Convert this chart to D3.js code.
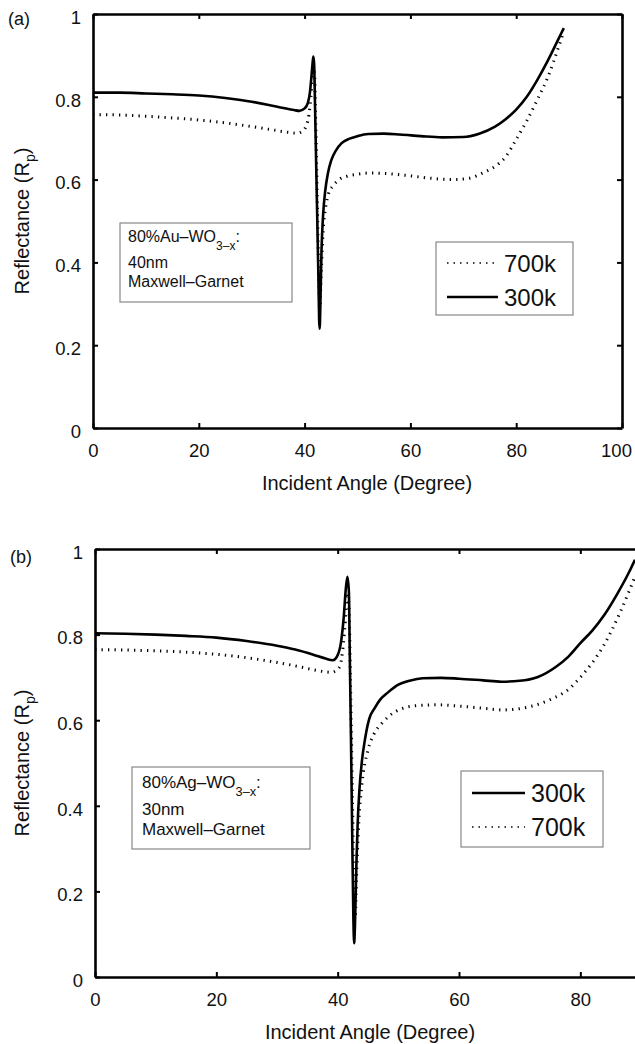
<!DOCTYPE html>
<html>
<head>
<meta charset="utf-8">
<script src="https://cdn.jsdelivr.net/npm/d3@7.9.0/dist/d3.min.js"></script>
<style>
  body { margin: 0; background: #fff; }
  svg { display: block; font-family: 'Liberation Sans', Arial, Helvetica, sans-serif; }
  .axis path, .axis line { stroke: #000; }
  .axis text { fill: #111; font-size: 18.5px; }
</style>
</head>
<body>
<svg id="chart" width="635" height="1044"></svg>
<script>
// panel (a): 80% Au-WO3-x, 40 nm
const anglesA300 = [0, 5, 10, 15, 20, 25, 30, 33, 36, 38, 39, 40, 40.6, 41, 41.3, 41.5, 41.65, 41.8, 42.0, 42.2, 42.4, 42.6, 42.75, 42.85, 43.0, 43.2, 43.5, 43.9, 44.4, 45, 46, 47, 48.5, 50, 52, 55, 58, 62, 66, 70, 73, 76, 78, 80, 82, 84, 86, 88, 89];
const reflA300 = [0.81, 0.81, 0.808, 0.806, 0.803, 0.797, 0.788, 0.781, 0.773, 0.768, 0.766, 0.772, 0.785, 0.81, 0.85, 0.88, 0.897, 0.88, 0.76, 0.63, 0.5, 0.37, 0.26, 0.24, 0.31, 0.43, 0.515, 0.573, 0.615, 0.645, 0.672, 0.688, 0.699, 0.705, 0.71, 0.711, 0.709, 0.705, 0.702, 0.703, 0.711, 0.728, 0.746, 0.769, 0.8, 0.841, 0.888, 0.94, 0.966];
const anglesA700 = [0, 5, 10, 15, 20, 25, 30, 34, 37, 38.6, 39.5, 40.3, 40.8, 41.2, 41.6, 41.85, 42.1, 42.4, 42.7, 42.9, 43.1, 43.5, 44, 44.5, 45.4, 46.5, 48, 50, 52.5, 56, 60, 64, 68, 71, 74, 76, 78, 80, 82, 84, 86, 88, 89];
const reflA700 = [0.757, 0.756, 0.753, 0.749, 0.744, 0.737, 0.728, 0.72, 0.714, 0.712, 0.716, 0.73, 0.755, 0.8, 0.86, 0.86, 0.74, 0.55, 0.36, 0.29, 0.36, 0.475, 0.535, 0.565, 0.585, 0.6, 0.608, 0.613, 0.616, 0.614, 0.609, 0.603, 0.6, 0.603, 0.618, 0.632, 0.655, 0.697, 0.742, 0.793, 0.848, 0.92, 0.958];

// panel (b): 80% Ag-WO3-x, 30 nm
const anglesB300 = [0, 5, 10, 15, 20, 25, 30, 33, 36, 38, 39.2, 40, 40.6, 41, 41.3, 41.6, 41.85, 42.0, 42.2, 42.4, 42.6, 42.72, 42.85, 43.1, 43.3, 43.6, 44.0, 44.5, 45.2, 46.1, 47, 48.3, 50, 52, 54, 57, 60, 64, 67, 70, 73, 76, 78, 80, 82, 84, 86, 88, 89];
const reflB300 = [0.803, 0.802, 0.8, 0.797, 0.793, 0.785, 0.774, 0.765, 0.753, 0.744, 0.74, 0.752, 0.787, 0.84, 0.9, 0.935, 0.9, 0.75, 0.55, 0.33, 0.13, 0.079, 0.12, 0.27, 0.36, 0.44, 0.505, 0.555, 0.603, 0.628, 0.648, 0.665, 0.683, 0.693, 0.698, 0.699, 0.697, 0.693, 0.69, 0.692, 0.701, 0.725, 0.748, 0.78, 0.81, 0.847, 0.893, 0.945, 0.975];
const anglesB700 = [0, 5, 10, 15, 20, 25, 30, 33, 36, 38, 39, 39.8, 40.4, 40.8, 41.2, 41.6, 41.85, 42.1, 42.4, 42.7, 42.9, 43.1, 43.4, 44, 45, 46, 47.3, 48.5, 50.6, 53, 56.3, 60, 64, 67.2, 70, 72.8, 75, 78.3, 80, 82, 83.7, 85, 86.5, 88, 89];
const reflB700 = [0.765, 0.764, 0.762, 0.759, 0.754, 0.746, 0.735, 0.727, 0.718, 0.713, 0.712, 0.717, 0.727, 0.76, 0.82, 0.89, 0.87, 0.7, 0.45, 0.2, 0.14, 0.23, 0.34, 0.45, 0.53, 0.568, 0.593, 0.61, 0.627, 0.634, 0.636, 0.633, 0.628, 0.624, 0.627, 0.636, 0.648, 0.675, 0.7, 0.735, 0.771, 0.805, 0.85, 0.9, 0.935];

const yTicks = [0, 0.2, 0.4, 0.6, 0.8, 1];
const xTicksA = [0, 20, 40, 60, 80, 100];
const xTicksB = [0, 20, 40, 60, 80];

const svg = d3.select('#chart');

const zip = (xs, ys) => xs.map((x, i) => ({ x, y: ys[i] }));

function drawPanel(p) {
  const x = d3.scaleLinear().domain(p.xDomain).range([p.left, p.right]);
  const y = d3.scaleLinear().domain([0, 1]).range([p.bottom, p.top]);
  const g = svg.append('g');

  const fmtY = (d) => (d === 0 || d === 1 ? d3.format('d')(d) : d3.format('.1f')(d));

  const xAxis = g.append('g')
    .attr('class', 'axis')
    .attr('transform', `translate(0,${p.bottom})`)
    .call(d3.axisBottom(x).tickValues(p.xTicks).tickSizeInner(-5).tickSizeOuter(0).tickPadding(16).tickFormat(d3.format('d')));
  xAxis.selectAll('text').attr('dx', (d) => (d === 100 ? -6 : 0));
  g.append('g')
    .attr('class', 'axis')
    .attr('transform', `translate(0,${p.top})`)
    .call(d3.axisTop(x).tickValues(p.xTicks).tickSizeInner(-5).tickSizeOuter(0).tickFormat(''));
  g.append('g')
    .attr('class', 'axis')
    .attr('transform', `translate(${p.left},0)`)
    .call(d3.axisLeft(y).tickValues(yTicks).tickSizeInner(-5).tickSizeOuter(0).tickPadding(12).tickFormat(fmtY))
    .selectAll('text').attr('dy', '0.5em');
  g.append('g')
    .attr('class', 'axis')
    .attr('transform', `translate(${p.right},0)`)
    .call(d3.axisRight(y).tickValues(yTicks).tickSizeInner(-5).tickSizeOuter(0).tickFormat(''));

  g.selectAll('.axis path').attr('stroke-width', 2.6);
  g.selectAll('.axis line').attr('stroke-width', 2);

  const line = d3.line()
    .x((d) => x(d.x))
    .y((d) => y(d.y))
    .curve(d3.curveMonotoneX);

  g.append('path')
    .datum(zip(p.angles700, p.refl700))
    .attr('d', line)
    .attr('fill', 'none')
    .attr('stroke', '#000')
    .attr('stroke-width', 3)
    .attr('stroke-dasharray', '1.3,5.2');

  g.append('path')
    .datum(zip(p.angles300, p.refl300))
    .attr('d', line)
    .attr('fill', 'none')
    .attr('stroke', '#000')
    .attr('stroke-width', 2.6);

  // axis titles
  g.append('text')
    .attr('x', p.xLabelX)
    .attr('y', p.bottom + 62)
    .attr('text-anchor', 'middle')
    .attr('font-size', 20)
    .attr('fill', '#111')
    .text('Incident Angle (Degree)');

  const yl = g.append('text')
    .attr('transform', `translate(29,${(p.top + p.bottom) / 2}) rotate(-90)`)
    .attr('text-anchor', 'middle')
    .attr('font-size', 20)
    .attr('fill', '#111');
  yl.append('tspan').text('Reflectance (R');
  yl.append('tspan').attr('font-size', 14).attr('dy', 6).text('p');
  yl.append('tspan').attr('dy', -6).text(')');

  g.append('text')
    .attr('x', p.tagX)
    .attr('y', p.tagY)
    .attr('font-size', 18)
    .attr('fill', '#111')
    .text(p.tag);

  // annotation box
  const n = p.note;
  g.append('rect')
    .attr('x', n.x).attr('y', n.y).attr('width', n.w).attr('height', n.h)
    .attr('fill', '#fff').attr('stroke', '#888').attr('stroke-width', 1.2);
  const t1 = g.append('text')
    .attr('x', n.x + n.pad).attr('y', n.lines[0])
    .attr('font-size', n.fs).attr('fill', '#111');
  t1.append('tspan').text(`80%${n.metal}–WO`);
  t1.append('tspan').attr('font-size', n.fs * 0.75).attr('dy', 8).text('3–x');
  t1.append('tspan').attr('dy', -8).text(':');
  g.append('text').attr('x', n.x + n.pad).attr('y', n.lines[1])
    .attr('font-size', n.fs).attr('fill', '#111').text(n.thick);
  g.append('text').attr('x', n.x + n.pad).attr('y', n.lines[2])
    .attr('font-size', n.fs).attr('fill', '#111').text('Maxwell–Garnet');

  // legend
  const L = p.legend;
  g.append('rect')
    .attr('x', L.x).attr('y', L.y).attr('width', L.w).attr('height', L.h)
    .attr('fill', '#fff').attr('stroke', '#888').attr('stroke-width', 1.2);
  L.items.forEach((item, i) => {
    const ly = L.rows[i];
    g.append('line')
      .attr('x1', L.x + 11).attr('x2', L.x + 11 + L.sample)
      .attr('y1', ly).attr('y2', ly)
      .attr('stroke', '#000')
      .attr('stroke-width', item.dotted ? 1.6 : 2.6)
      .attr('stroke-dasharray', item.dotted ? '1.5,5' : null);
    g.append('text')
      .attr('x', L.x + 11 + L.sample + 6)
      .attr('y', ly + L.fs * 0.37)
      .attr('font-size', L.fs)
      .attr('fill', '#111')
      .text(item.label);
  });
}

drawPanel({
  xDomain: [0, 100], xTicks: xTicksA,
  left: 93, right: 622, top: 14, bottom: 428,
  angles300: anglesA300, refl300: reflA300,
  angles700: anglesA700, refl700: reflA700,
  xLabelX: 367, tag: '(a)', tagX: 8, tagY: 25,
  note: { x: 120, y: 223, w: 172, h: 79, pad: 8, fs: 16, metal: 'Au', thick: '40nm', lines: [242, 268, 287] },
  legend: { x: 436, y: 242, w: 137, h: 73, sample: 51, fs: 24, rows: [263, 297],
    items: [{ label: '700k', dotted: true }, { label: '300k', dotted: false }] },
});

drawPanel({
  xDomain: [0, 90], xTicks: xTicksB,
  left: 95, right: 641, top: 549, bottom: 977,
  angles300: anglesB300, refl300: reflB300,
  angles700: anglesB700, refl700: reflB700,
  xLabelX: 370, tag: '(b)', tagX: 10, tagY: 563,
  note: { x: 132, y: 767, w: 178, h: 82, pad: 10, fs: 17, metal: 'Ag', thick: '30nm', lines: [788, 815, 835] },
  legend: { x: 461, y: 771, w: 142, h: 76, sample: 53, fs: 25, rows: [793, 827],
    items: [{ label: '300k', dotted: false }, { label: '700k', dotted: true }] },
});
</script>
</body>
</html>
